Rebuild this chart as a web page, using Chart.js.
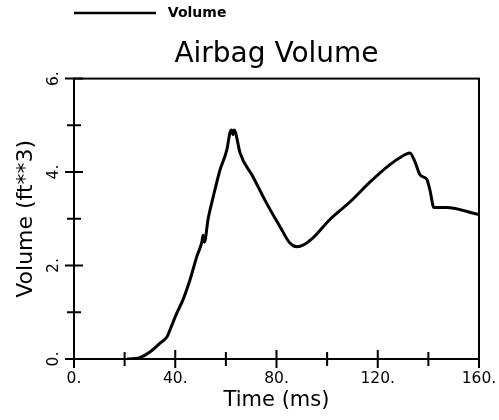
<!DOCTYPE html>
<html>
<head>
<meta charset="utf-8">
<script src="https://cdn.jsdelivr.net/npm/chart.js@4"></script>
<style>
  html, body { margin: 0; padding: 0; background: #fff; }
  #wrap { width: 499px; height: 420px; }
</style>
</head>
<body>
<div id="wrap"><canvas id="airbag"></canvas></div>
<script>
// time in ms
const timeMs = [21, 24, 26, 30, 34, 36.7, 37.9, 40.6, 43, 45.8, 48.5, 50.5, 51, 51.5, 53, 55, 57.7, 60.4, 61.6, 62.3, 62.8, 63.3, 63.8, 65.6, 70.7, 76, 81.4, 85.3, 88, 91, 94.4, 101, 109, 117, 124.8, 130, 132.7, 134.7, 136.7, 139.4, 140.6, 142.2, 147.4, 153, 157, 160];
// volume in ft**3
const volume = [0, 0.01, 0.03, 0.15, 0.34, 0.47, 0.62, 0.98, 1.26, 1.69, 2.19, 2.5, 2.65, 2.5, 3.0, 3.47, 4.05, 4.48, 4.84, 4.9, 4.8, 4.9, 4.85, 4.41, 3.9, 3.34, 2.83, 2.48, 2.40, 2.45, 2.59, 2.98, 3.36, 3.79, 4.16, 4.35, 4.41, 4.22, 3.94, 3.84, 3.62, 3.24, 3.24, 3.19, 3.13, 3.09];
const xLabelEvery = 40;   // labelled x ticks: 0. 40. 80. ...
const yLabelEvery = 2;    // labelled y ticks: 0. 2. 4. 6.

const font = "'DejaVu Sans', sans-serif";

// box around the plot + ticks crossing the axes
const frameTicks = {
  id: 'frameTicks',
  afterDatasetsDraw(chart) {
    const {ctx, chartArea: a, scales: {x, y}} = chart;
    ctx.save();
    ctx.strokeStyle = '#000';
    ctx.lineWidth = 2;
    ctx.strokeRect(a.left, a.top, a.right - a.left, a.bottom - a.top);
    ctx.beginPath();
    x.ticks.forEach(t => {
      const px = x.getPixelForValue(t.value);
      const major = t.value % xLabelEvery === 0;
      ctx.moveTo(px, a.bottom - (major ? 9 : 7));
      ctx.lineTo(px, a.bottom + (major ? 9 : 7));
    });
    y.ticks.forEach(t => {
      const py = y.getPixelForValue(t.value);
      const major = t.value % yLabelEvery === 0;
      ctx.moveTo(a.left - (major ? 9 : 7), py);
      ctx.lineTo(a.left + (major ? 9 : 7), py);
    });
    ctx.stroke();
    ctx.restore();
  }
};

new Chart("airbag", {
  type: "line",
  data: {
    datasets: [{
      label: "Volume",
      data: timeMs.map((t, i) => ({x: t, y: volume[i]})),
      borderColor: "#000",
      backgroundColor: "#000",
      borderWidth: 3,
      pointRadius: 0,
      cubicInterpolationMode: "monotone",
      fill: false
    }]
  },
  options: {
    animation: false,
    responsive: true,
    maintainAspectRatio: false,
    layout: { padding: { top: 6, right: 20, left: 0, bottom: 0 } },
    plugins: {
      legend: {
        display: true,
        position: "top",
        align: "start",
        fullSize: false,
        weight: 3000,
        labels: {
          boxWidth: 82,
          boxHeight: 0,
          padding: 0,
          color: "#000",
          font: { family: font, size: 14, weight: "bold" },
          generateLabels(chart) {
            return Chart.defaults.plugins.legend.labels.generateLabels(chart)
              .map(l => Object.assign(l, { text: ' ' + l.text, lineWidth: 2.5 }));
          }
        }
      },
      title: {
        display: true,
        text: "Airbag Volume",
        fullSize: false,
        weight: 1000,
        color: "#000",
        font: { family: font, size: 28, weight: "normal" },
        padding: { top: 8, bottom: 7 }
      },
      tooltip: { enabled: false }
    },
    scales: {
      x: {
        type: "linear",
        min: 0,
        max: 160,
        afterFit(s) { s.height = 61; },
        // invisible tick marks only reserve room under the axis
        grid: { display: true, drawOnChartArea: false, drawTicks: true, tickLength: 11, color: "rgba(0,0,0,0)" },
        border: { display: false },
        ticks: {
          stepSize: 20,
          autoSkip: false,
          maxRotation: 0,
          padding: 0,
          color: "#000",
          font: { family: font, size: 15.5 },
          callback: v => (v % xLabelEvery === 0 ? v + "." : "")
        },
        title: {
          display: true,
          text: "Time (ms)",
          color: "#000",
          font: { family: font, size: 21 },
          padding: { top: 0, bottom: 7 }
        }
      },
      y: {
        min: 0,
        max: 6,
        afterFit(s) { s.width = 74; },
        grid: { display: false },
        border: { display: false },
        ticks: {
          stepSize: 1,
          autoSkip: false,
          minRotation: 90,
          maxRotation: 90,
          crossAlign: "center",
          padding: 4.5,
          color: "#000",
          font: { family: font, size: 15.5 },
          callback: v => (v % yLabelEvery === 0 ? v + "." : "")
        },
        title: {
          display: true,
          text: "Volume (ft**3)",
          color: "#000",
          font: { family: font, size: 22 },
          padding: { top: 13, bottom: 0 }
        }
      }
    }
  },
  plugins: [frameTicks]
});
</script>
</body>
</html>
